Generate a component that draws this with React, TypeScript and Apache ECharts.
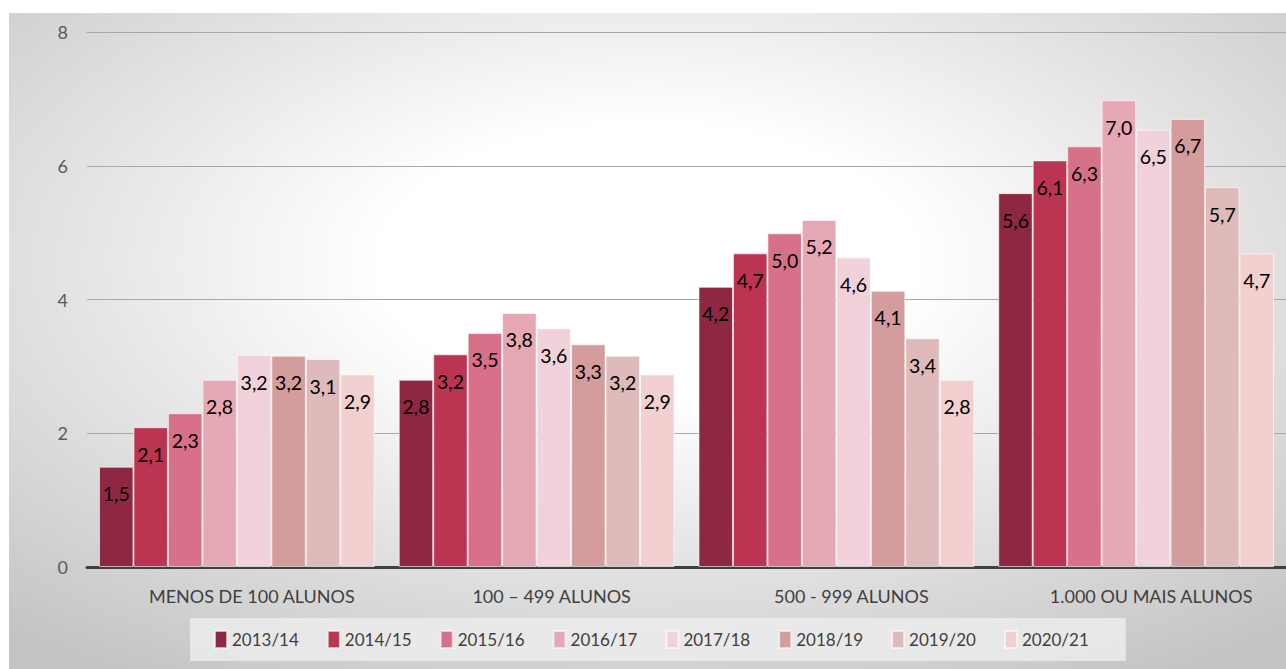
import React, { useEffect, useRef } from "react";
import * as echarts from "echarts";

const categories = ["MENOS DE 100 ALUNOS", "100 – 499 ALUNOS", "500 - 999 ALUNOS", "1.000 OU MAIS ALUNOS"];
const years = ["2013/14", "2014/15", "2015/16", "2016/17", "2017/18", "2018/19", "2019/20", "2020/21"];
const y2013 = [1.5, 2.8, 4.19, 5.59];
const y2014 = [2.09, 3.18, 4.69, 6.08];
const y2015 = [2.3, 3.5, 4.99, 6.29];
const y2016 = [2.8, 3.8, 5.19, 6.98];
const y2017 = [3.17, 3.57, 4.63, 6.54];
const y2018 = [3.16, 3.33, 4.13, 6.7];
const y2019 = [3.11, 3.16, 3.42, 5.68];
const y2020 = [2.88, 2.88, 2.8, 4.69];
const seriesValues = [y2013, y2014, y2015, y2016, y2017, y2018, y2019, y2020];
const colors = ["#8e2842", "#bb3452", "#d7718a", "#e6a8b5", "#f2d2da", "#d49c9d", "#dfbaba", "#f2d0cf"];
const yTicks = [0, 2, 4, 6, 8];

const FONT = "Lato, 'Open Sans', sans-serif";

export default function App() {
  const ref = useRef<HTMLDivElement>(null);
  useEffect(() => {
    if (!ref.current) return;
    const chart = echarts.init(ref.current, null, { renderer: "svg" });
    chart.setOption({
      animation: false,
      backgroundColor: {
        type: "radial",
        x: 0.5,
        y: 0.38,
        r: 0.75,
        colorStops: [
          { offset: 0, color: "#ffffff" },
          { offset: 0.28, color: "#ffffff" },
          { offset: 0.6, color: "#e4e4e4" },
          { offset: 1, color: "#c4c4c4" },
        ],
      },
      textStyle: { fontFamily: FONT },
      grid: { left: 78, right: 0, top: 19, bottom: 102, containLabel: false },
      legend: {
        data: years,
        left: 181,
        top: 605,
        padding: [12, 37, 12, 24],
        backgroundColor: "rgba(236,236,236,0.85)",
        itemWidth: 12,
        itemHeight: 17,
        itemGap: 28,
        icon: "rect",
        textStyle: { fontSize: 17, color: "#404040", fontFamily: FONT },
      },
      xAxis: {
        type: "category",
        data: categories,
        axisLine: { show: true, lineStyle: { color: "#404040", width: 3 } },
        axisTick: { show: false },
        axisLabel: { color: "#404040", fontSize: 18, margin: 20, padding: [0, 0, 0, 30], fontFamily: FONT },
      },
      yAxis: {
        type: "value",
        min: yTicks[0],
        max: yTicks[yTicks.length - 1],
        interval: 2,
        axisLine: { show: false },
        axisTick: { show: false },
        axisLabel: { color: "#595959", fontSize: 18, margin: 19, fontFamily: FONT },
        splitLine: { lineStyle: { color: "#a8a8a8", width: 1 } },
      },
      series: years.map((name, i) => ({
        name,
        type: "bar",
        data: seriesValues[i],
        barGap: "0%",
        barCategoryGap: "8%",
        itemStyle: { color: colors[i], borderColor: "rgba(255,255,255,0.6)", borderWidth: 1 },
        label: {
          show: true,
          position: "insideTop",
          distance: 17,
          color: "#000000",
          fontSize: 19.5,
          fontFamily: FONT,
          formatter: (p: any) => p.value.toFixed(1).replace(".", ","),
        },
      })),
    });
    return () => chart.dispose();
  }, []);
  return (
    <div
      ref={ref}
      style={{ position: "absolute", left: 9, top: 13, width: 1277, height: 656 }}
    />
  );
}
